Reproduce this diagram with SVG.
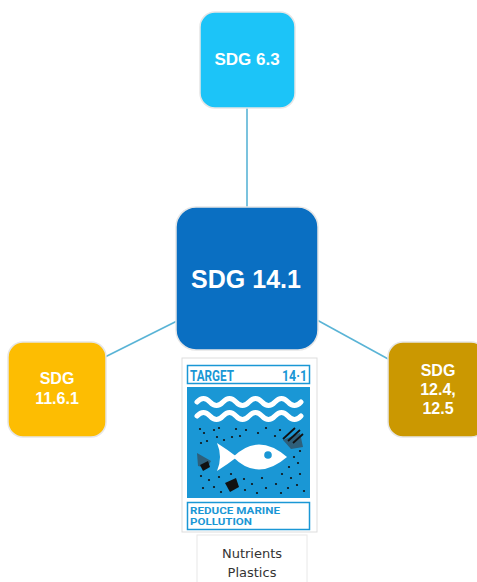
<svg xmlns="http://www.w3.org/2000/svg" width="477" height="582" viewBox="0 0 477 582">
  <style>
    .node { stroke: #e6e6e6; stroke-width: 1.5; }
    .lbl { font-family: "Liberation Sans", "DejaVu Sans", sans-serif; font-weight: bold; fill: #ffffff; text-anchor: middle; }
    .link { stroke: #5ab4d6; stroke-width: 1.6; fill: none; }
    .tgt { font-family: "Roboto", "Liberation Sans", sans-serif; font-weight: bold; fill: #1a97d5; }
    .dot { fill: #111111; }
    .wave { fill: none; stroke: #ffffff; stroke-width: 5; stroke-linecap: round; }
  </style>
  <rect width="477" height="582" fill="#ffffff"/>

  <!-- connectors -->
  <g id="connectors">
    <line class="link" x1="247" y1="108" x2="247" y2="208"/>
    <line class="link" x1="177" y1="321" x2="105" y2="357"/>
    <line class="link" x1="317" y1="320" x2="390" y2="360"/>
  </g>

  <g id="sdg-6-3">
    <rect class="node" x="200" y="12" width="95" height="96" rx="15" fill="#1cc4f8"/>
    <text class="lbl" x="247" y="65" font-size="17">SDG 6.3</text>
  </g>

  <g id="sdg-14-1">
    <rect class="node" x="176" y="207" width="142" height="143" rx="20" fill="#0a6fc2"/>
    <text class="lbl" x="246" y="288" font-size="25">SDG 14.1</text>
  </g>

  <g id="sdg-11-6-1">
    <rect class="node" x="8" y="342" width="98" height="95" rx="15" fill="#fdbd02"/>
    <text class="lbl" x="57" y="384" font-size="16">SDG</text>
    <text class="lbl" x="57" y="404" font-size="16">11.6.1</text>
  </g>

  <g id="sdg-12-4-12-5">
    <rect class="node" x="388" y="342" width="98" height="95" rx="15" fill="#cb9801"/>
    <text class="lbl" x="438" y="376" font-size="16">SDG</text>
    <text class="lbl" x="438" y="395" font-size="16">12.4,</text>
    <text class="lbl" x="438" y="414" font-size="16">12.5</text>
  </g>

  <!-- Target 14.1 icon card -->
  <g id="target-14-1">
    <rect x="182" y="358" width="135" height="174" fill="#ffffff" stroke="#dddddd" stroke-width="1"/>
    <rect x="187.5" y="365.5" width="122" height="18" fill="#ffffff" stroke="#1a97d5" stroke-width="1.5"/>
    <text class="tgt" x="190" y="380.5" font-size="15" textLength="44" lengthAdjust="spacingAndGlyphs">TARGET</text>
    <text class="tgt" x="307" y="380.5" font-size="15" text-anchor="end" textLength="25" lengthAdjust="spacingAndGlyphs">14·1</text>
    <rect x="187" y="387" width="123" height="111" fill="#1a97d5"/>
    <!-- waves -->
    <path class="wave" d="M197 402 q6.5 -7 13 0 t13 0 t13 0 t13 0 t13 0 t13 0 t13 0 t13 0"/>
    <path class="wave" d="M197 416 q6.5 -7 13 0 t13 0 t13 0 t13 0 t13 0 t13 0 t13 0 t13 0"/>
    <!-- fish -->
    <path d="M217 443 Q228 450 237 457 Q228 464 217 471 Q223 457 217 443 Z" fill="#ffffff"/>
    <path d="M233 457 Q258 432 287 457 Q258 482 233 457 Z" fill="#ffffff"/>
    <circle cx="268" cy="455" r="3.8" fill="#1a97d5"/>
    <!-- debris -->
    <path d="M283 440 L300 433 L303 447 L291 449 Z" fill="#2e5f7a"/>
    <path d="M283 439 L295 428 M288 441 L300 430 M293 443 L303 434" stroke="#111111" stroke-width="1.8"/>
    <path d="M197 453 L211 461 L207 468 L198 466 Z" fill="#2e5f7a"/>
    <path d="M200 465 L208 461 L210 467 L203 471 Z" fill="#111111"/>
    <path d="M225 483 L236 478 L239 487 L230 492 Z" fill="#111111"/>
    <!-- particles -->
    <g class="dot-field">
      <circle class="dot" cx="200" cy="429" r="1.1"/>
      <circle class="dot" cx="204" cy="433" r="1.1"/>
      <circle class="dot" cx="214" cy="430" r="1.1"/>
      <circle class="dot" cx="219" cy="428" r="1.1"/>
      <circle class="dot" cx="217" cy="437" r="1.1"/>
      <circle class="dot" cx="201" cy="443" r="1.1"/>
      <circle class="dot" cx="207" cy="441" r="1.1"/>
      <circle class="dot" cx="236" cy="429" r="1.1"/>
      <circle class="dot" cx="240" cy="436" r="1.1"/>
      <circle class="dot" cx="246" cy="430" r="1.1"/>
      <circle class="dot" cx="258" cy="433" r="1.1"/>
      <circle class="dot" cx="266" cy="428" r="1.1"/>
      <circle class="dot" cx="275" cy="436" r="1.1"/>
      <circle class="dot" cx="280" cy="430" r="1.1"/>
      <circle class="dot" cx="294" cy="457" r="1.1"/>
      <circle class="dot" cx="300" cy="451" r="1.1"/>
      <circle class="dot" cx="298" cy="463" r="1.1"/>
      <circle class="dot" cx="289" cy="467" r="1.1"/>
      <circle class="dot" cx="282" cy="474" r="1.1"/>
      <circle class="dot" cx="291" cy="478" r="1.1"/>
      <circle class="dot" cx="300" cy="474" r="1.1"/>
      <circle class="dot" cx="297" cy="485" r="1.1"/>
      <circle class="dot" cx="288" cy="488" r="1.1"/>
      <circle class="dot" cx="276" cy="484" r="1.1"/>
      <circle class="dot" cx="266" cy="488" r="1.1"/>
      <circle class="dot" cx="262" cy="478" r="1.1"/>
      <circle class="dot" cx="252" cy="484" r="1.1"/>
      <circle class="dot" cx="244" cy="479" r="1.1"/>
      <circle class="dot" cx="231" cy="474" r="1.1"/>
      <circle class="dot" cx="219" cy="477" r="1.1"/>
      <circle class="dot" cx="209" cy="480" r="1.1"/>
      <circle class="dot" cx="201" cy="476" r="1.1"/>
      <circle class="dot" cx="203" cy="488" r="1.1"/>
      <circle class="dot" cx="214" cy="487" r="1.1"/>
      <circle class="dot" cx="221" cy="492" r="1.1"/>
      <circle class="dot" cx="245" cy="490" r="1.1"/>
      <circle class="dot" cx="257" cy="493" r="1.1"/>
      <circle class="dot" cx="281" cy="493" r="1.1"/>
      <circle class="dot" cx="304" cy="491" r="1.1"/>
      <circle class="dot" cx="232" cy="437" r="1.1"/>
      <circle class="dot" cx="224" cy="440" r="1.1"/>
    </g>
    <rect x="187.5" y="502.5" width="122" height="27" fill="#ffffff" stroke="#1a97d5" stroke-width="1.5"/>
    <text class="tgt" x="190" y="514" font-size="9.5" textLength="90" lengthAdjust="spacingAndGlyphs">REDUCE MARINE</text>
    <text class="tgt" x="190" y="524.5" font-size="9.5" textLength="62" lengthAdjust="spacingAndGlyphs">POLLUTION</text>
  </g>

  <g id="pollutants">
    <rect x="197" y="535" width="110" height="52" fill="#ffffff" stroke="#e8e8e8" stroke-width="1"/>
    <text x="252" y="558" font-family="'DejaVu Sans', sans-serif" font-size="13" fill="#333333" text-anchor="middle">Nutrients</text>
    <text x="252" y="577" font-family="'DejaVu Sans', sans-serif" font-size="13" fill="#333333" text-anchor="middle">Plastics</text>
  </g>
</svg>
